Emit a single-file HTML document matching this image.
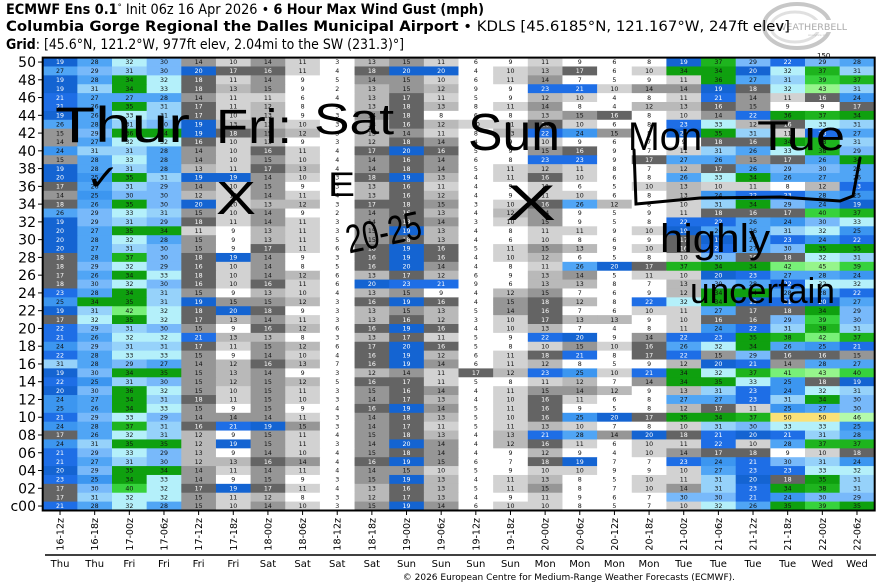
<!DOCTYPE html>
<html><head><meta charset="utf-8">
<style>
html,body{margin:0;padding:0;background:#fff;}
svg{display:block;}
.t{font-family:"DejaVu Sans","Liberation Sans",sans-serif;}
.c{font-family:"DejaVu Sans","Liberation Sans",sans-serif;font-size:6.3px;text-anchor:middle;}
.hw{font-family:"Liberation Sans",sans-serif;fill:#000;stroke:none;}
</style></head>
<body>
<svg id="s" width="883" height="585" viewBox="0 0 883 585" xmlns="http://www.w3.org/2000/svg">
<rect width="883" height="585" fill="#fff"/>
<!-- logo -->
<g opacity="0.55">
<ellipse cx="797" cy="26" rx="33" ry="22" fill="none" stroke="#9a9a9a" stroke-width="4"/>
<ellipse cx="795" cy="27" rx="24" ry="15" fill="none" stroke="#c8c8c8" stroke-width="3"/>
<rect x="775" y="20" width="70" height="12" fill="#fff"/>
<text class="t" x="777" y="30" font-size="9" fill="#666" textLength="70" lengthAdjust="spacingAndGlyphs">WEATHERBELL</text>
<text class="t" x="808" y="36" font-size="3" fill="#888">Analytics LLC</text>
</g>
<!-- titles -->
<text class="t" x="6" y="14" font-size="14" textLength="478" lengthAdjust="spacingAndGlyphs"><tspan font-weight="bold">ECMWF Ens 0.1</tspan><tspan font-size="9" dy="-4">°</tspan><tspan dy="4"> Init 06z 16 Apr 2026 • </tspan><tspan font-weight="bold">6 Hour Max Wind Gust (mph)</tspan></text>
<text class="t" x="6" y="31" font-size="14" textLength="784" lengthAdjust="spacingAndGlyphs"><tspan font-weight="bold">Columbia Gorge Regional the Dalles Municipal Airport</tspan><tspan> • KDLS [45.6185°N, 121.167°W, 247ft elev]</tspan></text>
<text class="t" x="6" y="49" font-size="14" textLength="398" lengthAdjust="spacingAndGlyphs"><tspan font-weight="bold">Grid</tspan><tspan>: [45.6°N, 121.2°W, 977ft elev, 2.04mi to the SW (231.3)°]</tspan></text>
<text class="t" x="817" y="58" font-size="7" fill="#000">150</text>
<g id="cells"></g>
<g id="ylab"></g>
<g id="xlab"></g>
<rect x="42.7" y="57.6" width="832" height="452.9" fill="none" stroke="#000" stroke-width="2"/>
<line x1="45" y1="555" x2="876" y2="555" stroke="#000" stroke-width="1.5"/>
<text class="t" x="735" y="580" font-size="9" text-anchor="end">© 2026 European Centre for Medium-Range Weather Forecasts (ECMWF).</text>
<!-- handwritten annotations -->
<g class="hw">
<text x="55" y="142" font-size="50" textLength="135" lengthAdjust="spacingAndGlyphs">Thur</text>
<text x="216" y="143" font-size="48" textLength="76" lengthAdjust="spacingAndGlyphs">Fri:</text>
<text x="314" y="134" font-size="44" textLength="80" lengthAdjust="spacingAndGlyphs">Sat</text>
<text x="468" y="150" font-size="52" textLength="92" lengthAdjust="spacingAndGlyphs">Sun</text>
<text x="628" y="150" font-size="40" textLength="74" lengthAdjust="spacingAndGlyphs">Mon</text>
<text x="757" y="150" font-size="42" textLength="88" lengthAdjust="spacingAndGlyphs">Tue</text>
<text x="86" y="190" font-size="36" textLength="34" lengthAdjust="spacingAndGlyphs">✓</text>
<text x="216" y="214" font-size="46" textLength="40" lengthAdjust="spacingAndGlyphs">X</text>
<text x="328" y="196" font-size="34" textLength="27" lengthAdjust="spacingAndGlyphs">E</text>
<text x="345" y="246" font-size="40" textLength="76" lengthAdjust="spacingAndGlyphs" transform="rotate(-12 383 230)">20-25</text>
<text x="506" y="220" font-size="50" textLength="50" lengthAdjust="spacingAndGlyphs">X</text>
<text x="660" y="252" font-size="40" textLength="110" lengthAdjust="spacingAndGlyphs">highly</text>
<text x="690" y="303" font-size="36" textLength="145" lengthAdjust="spacingAndGlyphs">uncertain</text>
</g>
<path d="M634 150 L636 204 L700 198 L780 197 L840 201 L853 196 L860 158" fill="none" stroke="#000" stroke-width="3" stroke-linecap="round"/>
</svg>
<script>
var D="19,28,32,30,14,10,14,11,3,13,15,11,6,9,11,9,6,8,19,37,29,22,29,28|27,29,31,30,20,17,16,11,4,18,20,20,4,10,13,17,6,10,34,34,20,32,37,31|19,28,34,32,18,11,14,9,5,14,15,10,6,11,14,7,5,9,11,36,27,31,39,37|19,31,34,33,18,13,15,9,2,13,15,12,9,9,23,21,10,14,14,19,18,32,43,31|21,27,27,28,14,11,11,6,4,13,17,11,5,9,12,10,4,8,11,21,14,11,16,24|21,26,35,31,17,11,12,8,3,13,18,13,8,11,14,8,4,12,13,16,15,9,9,17|19,26,33,31,17,10,13,9,3,14,18,8,6,8,13,15,16,8,10,14,22,36,37,34|26,28,31,30,19,13,13,10,3,13,16,12,10,11,16,10,6,8,23,33,12,16,33,31|15,29,36,34,19,18,15,12,3,13,14,11,8,13,22,24,15,8,20,35,31,11,23,27|14,27,32,32,16,10,13,9,3,12,18,14,4,9,10,9,6,7,9,18,16,34,38,31|24,31,31,28,14,10,16,11,4,17,20,16,5,9,15,16,9,7,11,31,26,33,38,29|15,28,33,28,14,10,15,10,4,14,16,14,6,8,23,23,9,17,27,26,15,17,26,34|19,28,31,28,13,11,17,13,4,14,18,14,5,11,12,11,8,7,12,17,26,29,30,26|20,25,35,31,19,19,14,10,3,18,19,13,4,11,16,10,6,8,26,33,34,26,27,26|17,26,31,29,14,10,15,9,3,13,16,11,4,9,11,6,5,10,13,10,11,8,12,23|14,25,30,30,12,10,14,11,4,13,16,12,4,9,11,10,6,8,13,24,22,23,28,25|18,26,35,30,20,10,13,12,3,17,18,15,3,10,16,26,12,8,10,31,34,29,24,19|26,29,33,31,15,10,14,9,2,14,16,13,4,12,14,9,5,9,11,18,16,17,40,37|19,29,31,29,18,11,14,11,3,14,18,14,3,10,15,9,5,8,22,22,26,24,30,33|20,27,35,34,11,9,13,11,3,15,19,13,4,8,11,11,9,10,19,26,26,31,32,25|20,28,32,28,15,9,13,11,5,15,18,13,4,6,10,8,6,9,17,19,26,23,24,22|20,27,31,30,15,9,17,11,6,18,19,16,5,11,15,13,9,10,16,23,27,30,35,35|18,28,37,30,18,19,14,9,3,16,19,16,4,10,12,6,5,8,10,30,16,18,32,31|18,29,32,29,16,10,14,8,5,16,20,14,4,8,11,26,20,17,37,34,34,42,45,39|17,26,34,33,18,10,14,12,6,13,17,12,6,9,13,14,5,11,10,20,23,27,28,24|18,30,32,30,16,10,16,11,6,20,23,21,9,6,13,13,8,7,13,30,28,22,32,32|23,28,34,31,15,9,13,10,4,13,15,9,4,12,15,7,6,9,12,34,34,28,28,22|25,34,35,31,19,15,15,12,3,16,19,16,4,15,18,12,8,22,32,34,19,21,20,27|19,31,42,32,18,20,18,9,3,13,15,13,5,14,16,7,6,10,11,27,17,18,34,29|17,32,35,32,17,13,14,11,3,13,16,12,3,10,17,13,13,9,10,16,16,29,39,30|22,29,31,30,15,9,16,12,6,16,19,16,4,10,13,7,4,8,11,24,22,31,38,31|21,26,32,32,21,13,13,8,3,13,17,11,5,9,22,20,9,14,22,23,35,38,42,37|24,29,31,31,17,11,15,12,6,17,20,16,5,8,10,15,10,16,26,32,34,26,25,21|22,28,33,33,15,9,14,10,4,16,19,12,6,11,18,21,8,17,22,15,29,16,16,15|31,28,29,27,14,12,16,13,7,16,19,14,6,11,12,8,5,9,12,20,21,14,28,27|19,30,34,35,15,13,14,9,3,12,14,11,17,12,23,25,10,21,34,32,37,41,43,40|22,25,31,30,15,12,15,12,5,16,17,11,5,8,11,12,7,14,34,35,33,25,18,19|20,30,36,32,15,10,15,11,3,15,16,14,4,11,15,14,12,9,13,31,23,24,32,31|24,27,34,31,18,11,15,10,3,14,17,13,4,10,16,11,6,8,27,27,23,31,34,30|25,26,34,33,15,9,15,9,4,16,19,14,5,11,16,9,5,8,12,17,11,25,27,30|21,29,33,29,14,14,14,11,3,14,18,13,5,10,16,25,20,17,35,34,37,50,50,46|24,28,37,31,16,21,19,15,3,14,17,11,5,11,13,10,7,8,10,31,30,33,33,25|17,26,32,31,12,9,15,11,4,15,18,13,4,13,21,28,14,20,18,21,20,21,31,28|24,31,35,35,12,19,15,11,3,14,20,14,4,12,16,11,6,10,11,22,10,28,37,37|21,29,33,29,13,9,14,10,4,15,18,14,4,9,12,9,4,10,14,17,18,9,10,18|21,27,31,30,12,13,16,14,4,16,19,15,6,7,18,19,7,7,23,24,21,30,31,24|20,29,35,34,14,11,14,11,4,14,15,10,5,9,10,10,9,9,10,27,23,23,33,32|23,25,34,33,14,9,15,9,3,15,19,13,4,11,13,8,5,10,11,31,20,18,35,31|17,30,40,32,17,19,17,11,4,13,16,13,5,11,15,8,7,10,14,31,23,34,38,31|17,31,32,32,15,11,12,8,3,12,17,13,4,9,11,9,6,7,30,30,21,24,30,29|21,28,32,28,15,10,14,10,3,15,19,14,6,10,10,8,5,7,10,32,26,35,39,35";
function col(v){
 if(v<=9)return"#ffffff";if(v<=11)return"#d2d2d2";if(v<=13)return"#b9b9b9";if(v<=15)return"#969696";
 if(v<=18)return"#646464";if(v<=20)return"#1464d2";if(v<=23)return"#1e6ee6";if(v<=25)return"#3c96f0";
 if(v<=28)return"#50a5f5";if(v<=30)return"#78b9fa";if(v<=31)return"#96d2fa";if(v<=33)return"#b4f0fa";
 if(v<=36)return"#0fa00f";if(v<=38)return"#1eb41e";if(v<=40)return"#37d23c";if(v<=42)return"#78f078";
 if(v<=45)return"#96f58c";if(v<=49)return"#b4faaa";return"#fae178";}
var NS="http://www.w3.org/2000/svg";
function el(n,a,p,t){var e=document.createElementNS(NS,n);for(var k in a)e.setAttribute(k,a[k]);if(t!==undefined)e.textContent=t;p.appendChild(e);return e;}
var g=document.getElementById("cells"),x0=42.7,cw=34.65,y0=57.6,rh=8.88;
var rows=D.split("|");
rows.forEach(function(r,i){r.split(",").forEach(function(s,j){var v=+s;var x=x0+j*cw,y=y0+i*rh;
 el("rect",{x:x,y:y,width:cw+0.4,height:rh+0.4,fill:col(v)},g);
 var w=(v>=16&&v<=23);
 el("text",{x:x+cw/2,y:y+rh/2+2.2,"class":"c",fill:w?"#fff":"#111"},g,s);});});
var yl=document.getElementById("ylab");
for(var i=0;i<=50;i+=2){var v=50-i;var y=y0+i*rh+rh/2;var lab=v==0?"c00":(v<10?"0"+v:""+v);
 el("line",{x1:38,y1:y,x2:43,y2:y,stroke:"#000","stroke-width":1},yl);
 el("text",{x:36,y:y+5,"class":"t","font-size":"14","text-anchor":"end"},yl,lab);}
var xl=document.getElementById("xlab");
var X=["16-12z","16-18z","17-00z","17-06z","17-12z","17-18z","18-00z","18-06z","18-12z","18-18z","19-00z","19-06z","19-12z","19-18z","20-00z","20-06z","20-12z","20-18z","21-00z","21-06z","21-12z","21-18z","22-00z","22-06z"];
var Dd=["Thu","Thu","Fri","Fri","Fri","Fri","Sat","Sat","Sat","Sat","Sun","Sun","Sun","Sun","Mon","Mon","Mon","Mon","Tue","Tue","Tue","Tue","Wed","Wed"];
X.forEach(function(s,j){var cx=x0+j*cw+cw/2;
 el("line",{x1:cx,y1:511,x2:cx,y2:515,stroke:"#000","stroke-width":1},xl);
 el("text",{x:0,y:0,"class":"t","font-size":"9.5","text-anchor":"end",transform:"translate("+(cx+3.5)+",518) rotate(-90)"},xl,s);
 el("text",{x:cx,y:567,"class":"t","font-size":"10","text-anchor":"middle"},xl,Dd[j]);});
</script>
</body></html>
